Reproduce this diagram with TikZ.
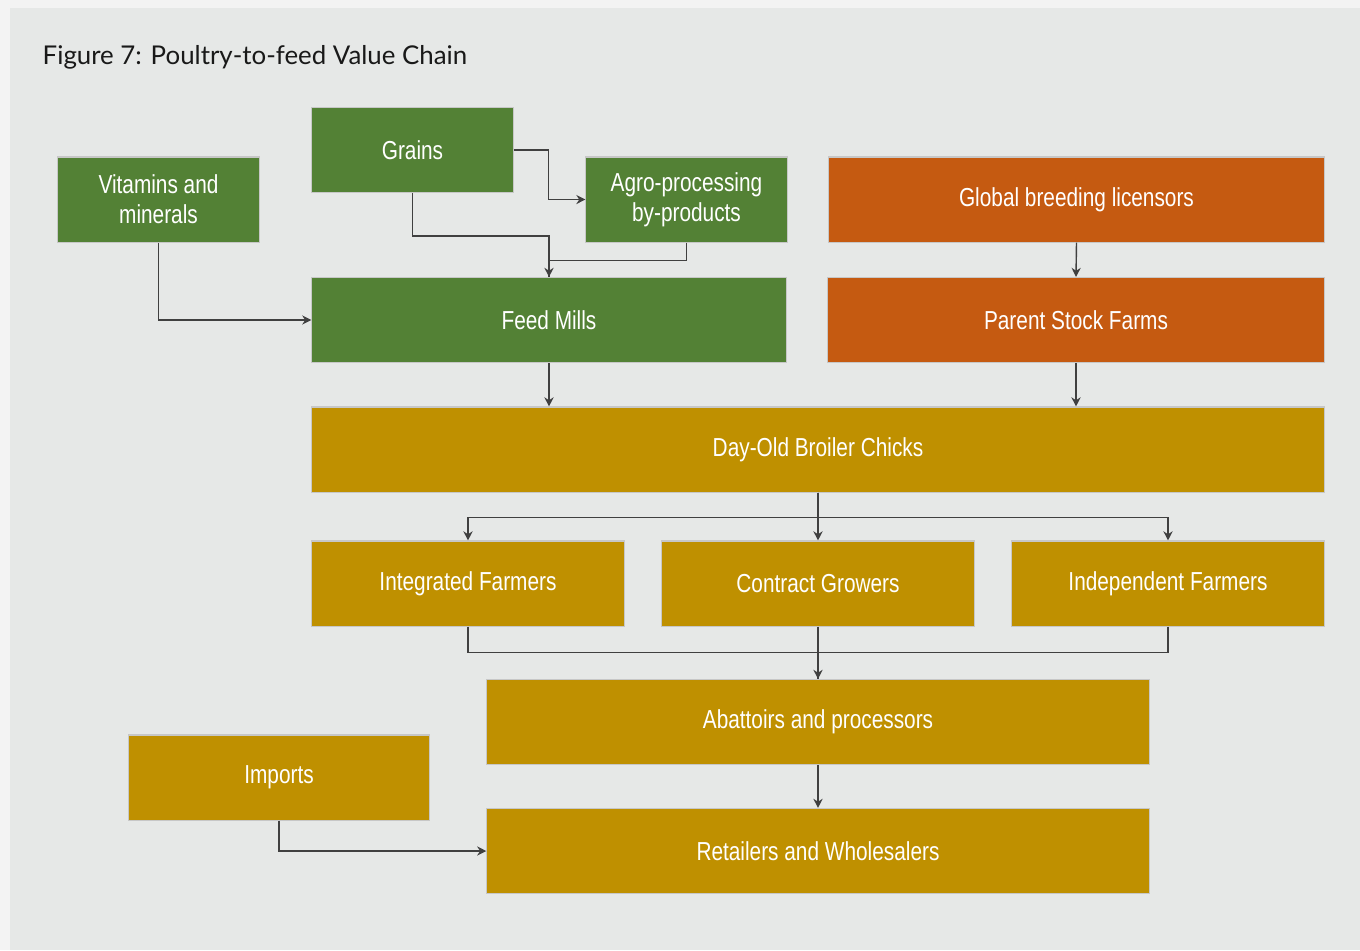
\documentclass[tikz,border=0pt]{standalone}
\usepackage{fontspec}
\setmainfont[FakeStretch=0.8]{Liberation Sans}
\newfontfamily\titlefont{Lato}
\usetikzlibrary{arrows.meta,calc}
\definecolor{pageback}{HTML}{E6E8E7}
\definecolor{pageedge}{HTML}{F3F3F3}
\definecolor{feedgreen}{HTML}{538135}
\definecolor{breedorange}{HTML}{C55A11}
\definecolor{chaingold}{HTML}{BF9000}
\definecolor{linkgray}{HTML}{404040}
\begin{document}
\begin{tikzpicture}[x=0.01cm,y=-0.01cm,>={Stealth[length=2.6pt,width=2.6pt]},
  stage/.style={draw=black!22,line width=0.3pt,text=white,align=center,
    minimum height=0.85cm,inner sep=0pt,font=\fontsize{7.4}{8.6}\selectfont},
  feed/.style={stage,fill=feedgreen},
  breed/.style={stage,fill=breedorange},
  chain/.style={stage,fill=chaingold},
  link/.style={draw=linkgray,line width=0.4pt}]
\fill[pageedge](0,0)rectangle(1360,950);
\fill[pageback](10,8)rectangle(1360,950);
\useasboundingbox(0,0)rectangle(1360,950);
\node[anchor=west,inner sep=0pt,text=black!90,font=\titlefont\fontsize{7.35}{9}\selectfont] (title) at (42,57) {Figure 7: Poultry-to-feed Value Chain};
\node[feed,minimum width=2.01cm] (vit) at (158.5,199.5) {Vitamins and\\minerals};
\node[feed,minimum width=2.01cm] (grains) at (412.5,150) {Grains};
\node[feed,minimum width=2.01cm] (agro) at (686.5,199.5) {Agro-processing\\by-products};
\node[breed,minimum width=4.95cm] (global) at (1076.5,199.5) {Global breeding licensors};
\node[feed,minimum width=4.74cm] (mills) at (549,320) {Feed Mills};
\node[breed,minimum width=4.96cm] (parent) at (1076,320) {Parent Stock Farms};
\node[chain,minimum width=10.12cm] (dayold) at (818,449.5) {Day-Old Broiler Chicks};
\node[chain,minimum width=3.12cm] (integ) at (468,583.5) {Integrated Farmers};
\node[chain,minimum width=3.12cm] (contract) at (818,583.5) {Contract Growers};
\node[chain,minimum width=3.12cm] (indep) at (1168,583.5) {Independent Farmers};
\node[chain,minimum width=6.62cm] (abatt) at (818,722) {Abattoirs and processors};
\node[chain,minimum width=3.00cm] (imports) at (279,777.5) {Imports};
\node[chain,minimum width=6.62cm] (retail) at (818,851) {Retailers and Wholesalers};
\draw[link,->](grains.east)--++(35,0)|-(agro.west);
\draw[link,->](grains.south)--++(0,43)-|(mills.north);
\draw[link](agro.south)--++(0,18)-|(mills.north);
\draw[link,->](vit.south)|-(mills.west);
\draw[link,->](global.south)--(parent.north);
\draw[link,->](mills.south)--(mills.south|-dayold.north);
\draw[link,->](parent.south)--(parent.south|-dayold.north);
\draw[link,->](dayold.south)--(contract.north);
\draw[link,->](dayold.south)--++(0,25)-|(integ.north);
\draw[link,->](dayold.south)--++(0,25)-|(indep.north);
\draw[link](integ.south)--++(0,26)-|(abatt.north);
\draw[link](indep.south)--++(0,26)-|(abatt.north);
\draw[link,->](contract.south)--(abatt.north);
\draw[link,->](abatt.south)--(retail.north);
\draw[link,->](imports.south)|-(retail.west);
\end{tikzpicture}
\end{document}
